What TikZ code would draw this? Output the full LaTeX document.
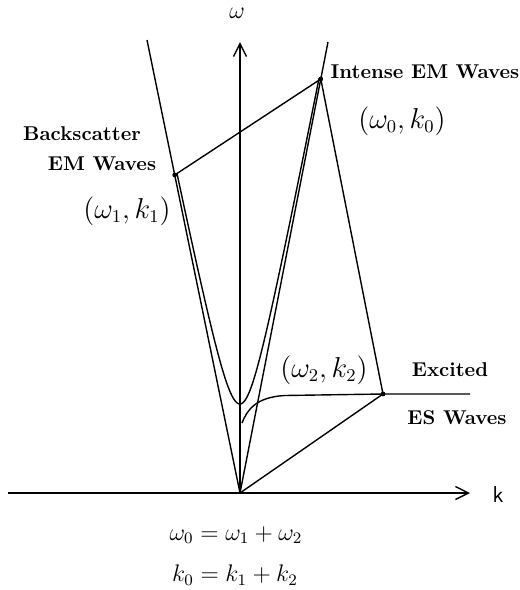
\documentclass[tikz,border=0pt]{standalone}
\usetikzlibrary{arrows.meta}
\begin{document}
\begin{tikzpicture}[x=0.5pt,y=-0.5pt,
  curve/.style={line width=0.7pt},
  axis/.style={line width=0.7pt,-{Straight Barb[length=6.5pt,width=6.5pt,line width=0.7pt]}},
  dot/.style={circle,fill=black,inner sep=0pt,minimum size=2.4pt},
  lbl/.style={font=\bfseries\fontsize{10}{12}\selectfont,inner sep=0pt},
  pt/.style={font=\fontsize{13.5}{15}\selectfont,inner sep=0pt},
  eq/.style={font=\fontsize{12}{14}\selectfont,inner sep=0pt}]
\path[use as bounding box] (0,0) rectangle (520,590);
% key points
\coordinate (O) at (240,493);
\coordinate (kstart) at (8,493);
\coordinate (kend) at (470,493);
\coordinate (wend) at (240,42);
\coordinate (LL) at (147,40);
\coordinate (RL) at (328,42);
\coordinate (P0) at (320.8,79);
\coordinate (P1) at (174.7,175);
\coordinate (P2) at (383,394);
\coordinate (ESs) at (242,423);
\coordinate (ESm) at (285,395.5);
\coordinate (ESe) at (470,394);
% axes
\draw[axis] (kstart) -- (kend);
\draw[axis] (O) -- (wend);
\node[font=\sffamily\fontsize{11.5}{13}\selectfont] (klab) at (498,495) {k};
\node[font=\fontsize{12}{14}\selectfont] (wlab) at (237,13) {$\omega$};
% light lines
\draw[curve] (LL) -- (O);
\draw[curve] (RL) -- (O);
% EM dispersion hyperbola
\draw[curve] plot[domain=0:79,samples=80] ({240+\x},{493-100*sqrt(0.7921+(0.05125*\x)^2)});
\draw[curve] plot[domain=0:63,samples=80] ({240-\x},{493-100*sqrt(0.7921+(0.0487*\x)^2)});
% ES dispersion
\draw[curve] (ESs) .. controls (247,410) and (256,397) .. (ESm) -- (P2) -- (ESe);
% parallelogram lines
\draw[curve] (P1) -- (P0);
\draw[curve] (P0) -- (P2);
\draw[curve] (O) -- (P2);
\node[dot] (d0) at (P0) {};
\node[dot] (d1) at (P1) {};
\node[dot] (d2) at (P2) {};
% labels
\node[lbl] (intense) at (425,72) {Intense EM Waves};
\node[pt] (w0k0) at (402,121) {$(\omega_0,k_0)$};
\node[lbl] (back) at (82,134) {Backscatter};
\node[lbl] (emw) at (102,164) {EM Waves};
\node[pt] (w1k1) at (127,211) {$(\omega_1,k_1)$};
\node[pt] (w2k2) at (324,370) {$(\omega_2,k_2)$};
\node[lbl] (excited) at (450,370) {Excited};
\node[lbl] (esw) at (457,418) {ES Waves};
\node[eq] (eq1) at (236,535) {$\omega_0=\omega_1+\omega_2$};
\node[eq] (eq2) at (235,575) {$k_0=k_1+k_2$};
\end{tikzpicture}
\end{document}
